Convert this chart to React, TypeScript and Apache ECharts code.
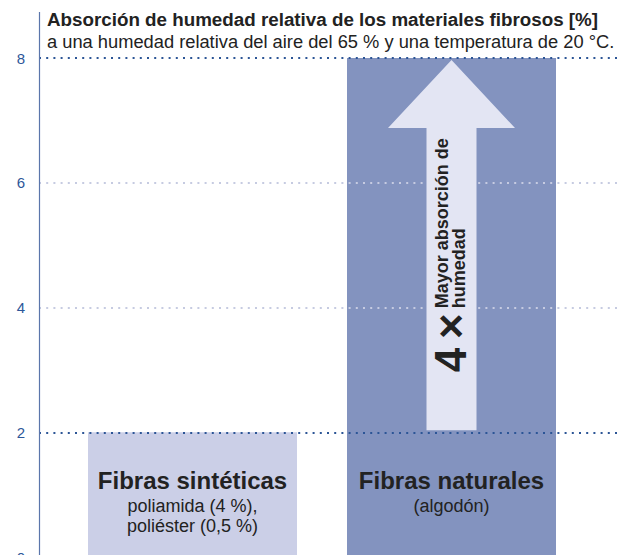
import React, { useEffect, useRef } from "react";
import * as echarts from "echarts";

// ---- data ----
const CATEGORIES = ["Fibras sintéticas", "Fibras naturales"];
const SUB_LABELS = [["poliamida (4 %),", "poliéster (0,5 %)"], ["(algodón)"]];
const VALUES = [2, 8];
const Y_MIN = 0;
const Y_MAX = 8;
const Y_INTERVAL = 2;
const ARROW_CATEGORY = 1;
const ARROW_RANGE = [2, 8];
const ARROW_BIG = "4\u2009×";
const ARROW_TEXT = "Mayor absorción de\nhumedad";
const TITLE = "Absorción de humedad relativa de los materiales fibrosos [%]";
const SUBTITLE = "a una humedad relativa del aire del 65 % y una temperatura de 20 °C.";

// ---- styles ----
const FONT = "'Liberation Sans', Arial, Helvetica, sans-serif";
const BAR_COLORS = ["#cbcfe7", "#8393bf"];
const ARROW_COLOR = "#e3e5f3";
const DARK_DOT = "#2c5596";
const LIGHT_DOT = "#c6cbe1";
const TEXT = "#222222";

export default function App() {
  const ref = useRef<HTMLDivElement>(null);
  useEffect(() => {
    if (!ref.current) return;
    const chart = echarts.init(ref.current, null, { renderer: "svg" });
    const option: any = {
      animation: false,
      backgroundColor: "#ffffff",
      textStyle: { fontFamily: FONT },
      title: {
        text: TITLE,
        subtext: SUBTITLE,
        left: 47,
        top: 9,
        itemGap: 2,
        padding: 0,
        textStyle: { fontFamily: FONT, fontSize: 18.8, fontWeight: "bold", color: TEXT, lineHeight: 20 },
        subtextStyle: { fontFamily: FONT, fontSize: 18.3, color: TEXT, lineHeight: 20 },
      },
      grid: [
        { left: 39, right: 11, top: 58, height: 499 },
        { left: 63, right: 52, top: 58, height: 499 },
      ],
      xAxis: [
        { gridIndex: 0, type: "value", min: 0, max: 1, show: false },
        {
          gridIndex: 1,
          type: "category",
          data: CATEGORIES,
          z: 6,
          axisLine: { show: false },
          axisTick: { show: false },
          axisLabel: {
            inside: true,
            margin: 93,
            verticalAlign: "top",
            interval: 0,
            formatter: (v: string, i: number) =>
              [`{t|${v}}`, ...SUB_LABELS[i].map((s) => `{s|${s}}`)].join("\n"),
            rich: {
              t: { fontFamily: FONT, fontSize: 24, fontWeight: "bold", color: TEXT, lineHeight: 32, align: "center" },
              s: { fontFamily: FONT, fontSize: 18, color: TEXT, lineHeight: 20, align: "center" },
            },
          },
        },
      ],
      yAxis: [
        {
          gridIndex: 0,
          type: "value",
          min: Y_MIN,
          max: Y_MAX,
          interval: Y_INTERVAL,
          z: 5,
          axisLine: { show: false },
          axisTick: { show: false },
          axisLabel: { color: "#2d5799", fontSize: 15, fontFamily: FONT, margin: 14 },
          splitLine: {
            show: true,
            lineStyle: {
              color: [LIGHT_DOT, DARK_DOT, LIGHT_DOT, LIGHT_DOT, DARK_DOT],
              width: 2.2,
              type: [2, 5.2],
            },
          },
        },
        { gridIndex: 1, type: "value", min: Y_MIN, max: Y_MAX, show: false },
      ],
      graphic: [
        {
          type: "line",
          z: 6,
          shape: { x1: 39.5, y1: 12, x2: 39.5, y2: 575 },
          style: { stroke: "#5b76ab", lineWidth: 1.2 },
        },
      ],
      series: [
        {
          type: "bar",
          xAxisIndex: 1,
          yAxisIndex: 1,
          barWidth: 209,
          z: 2,
          data: VALUES.map((v, i) => ({ value: v, itemStyle: { color: BAR_COLORS[i] } })),
        },
        {
          type: "custom",
          xAxisIndex: 1,
          yAxisIndex: 1,
          z: 10,
          clip: false,
          data: [[ARROW_CATEGORY, ARROW_RANGE[0], ARROW_RANGE[1]]],
          renderItem: (params: any, api: any) => {
            const base = api.coord([api.value(0), api.value(1)]);
            const top = api.coord([api.value(0), api.value(2)]);
            const cx = base[0];
            const bottom = base[1] - 2;
            const tip = top[1] + 2;
            const headBase = tip + 68;
            const sw = 25;
            const hw = 63.5;
            return {
              type: "group",
              children: [
                {
                  type: "polygon",
                  shape: {
                    points: [
                      [cx - sw, bottom],
                      [cx - sw, headBase],
                      [cx - hw, headBase],
                      [cx, tip],
                      [cx + hw, headBase],
                      [cx + sw, headBase],
                      [cx + sw, bottom],
                    ],
                  },
                  style: { fill: ARROW_COLOR },
                },
                {
                  type: "text",
                  x: cx - 1,
                  y: base[1] - 60,
                  rotation: Math.PI / 2,
                  style: {
                    text: ARROW_BIG,
                    font: `bold 44px ${FONT}`,
                    fill: TEXT,
                    align: "left",
                    verticalAlign: "middle",
                  },
                },
                {
                  type: "text",
                  x: cx - 1.5,
                  y: base[1] - 124,
                  rotation: Math.PI / 2,
                  style: {
                    text: ARROW_TEXT,
                    font: `bold 18px ${FONT}`,
                    lineHeight: 17,
                    fill: TEXT,
                    align: "left",
                    verticalAlign: "middle",
                  },
                },
              ],
            };
          },
        },
      ],
    };
    chart.setOption(option);
    return () => chart.dispose();
  }, []);
  return (
    <div
      ref={ref}
      style={{ position: "fixed", left: 0, top: 0, width: 633, height: 575 }}
    />
  );
}
